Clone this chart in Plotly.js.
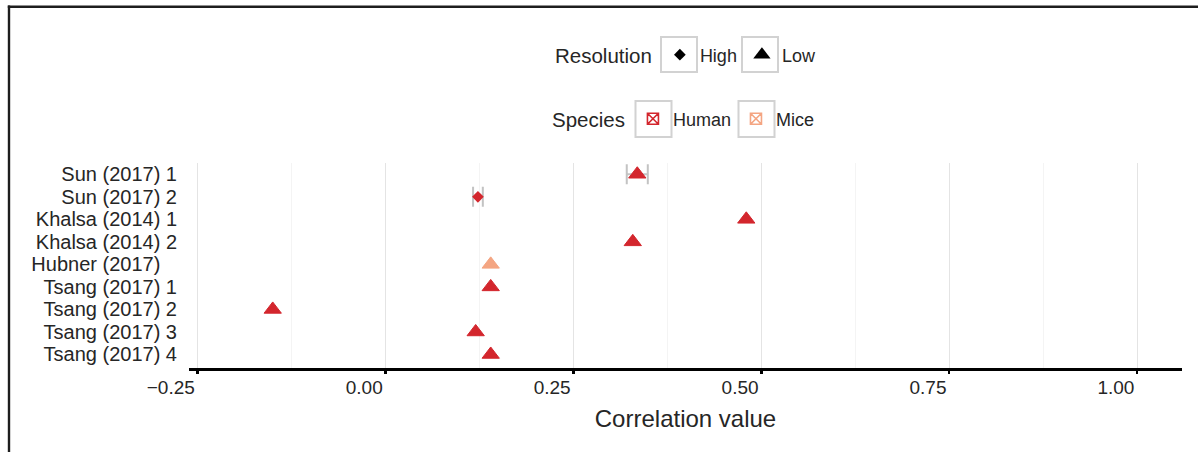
<!DOCTYPE html>
<html>
<head>
<meta charset="utf-8">
<script src="https://cdn.plot.ly/plotly-3.0.1.min.js"></script>
<style>
html, body { margin: 0; padding: 0; background: #fff; }
#chart { width: 1198px; height: 452px; }
</style>
</head>
<body>
<div id="chart"></div>
<script>
// ---- data ----
const studies = ["Sun (2017) 1", "Sun (2017) 2", "Khalsa (2014) 1", "Khalsa (2014) 2",
                 "Hubner (2017)", "Tsang (2017) 1", "Tsang (2017) 2", "Tsang (2017) 3", "Tsang (2017) 4"];
// tick labels as printed (the single Hubner study carries a blank index slot)
const studyLabels = ["Sun (2017) 1", "Sun (2017) 2", "Khalsa (2014) 1", "Khalsa (2014) 2",
                     "Hubner (2017)\u00a0\u00a0\u00a0", "Tsang (2017) 1", "Tsang (2017) 2", "Tsang (2017) 3", "Tsang (2017) 4"];
const correlation = [0.335, 0.123, 0.480, 0.329, 0.140, 0.140, -0.150, 0.120, 0.140];
const errorHalf = [0.014, 0.0065, null, null, null, null, null, null, null];
const resolution = ["Low", "High", "Low", "Low", "Low", "Low", "Low", "Low", "Low"];
const species = ["Human", "Human", "Human", "Human", "Mice", "Human", "Human", "Human", "Human"];
const xTicks = [-0.25, 0, 0.25, 0.5, 0.75, 1.0];

// ---- styles ----
const speciesColor = { Human: "#D3262D", Mice: "#F4A582" };
const resSymbol = { High: "diamond", Low: "triangle-up" };
const resSize = { High: 9, Low: 15 };
const FONT = "Liberation Sans, Arial, Helvetica, sans-serif";
const TXT = "#262626";

const W = 1198, H = 452;
const M = { l: 189, r: 16, t: 163, b: 84, pad: 0 };
const pw = W - M.l - M.r, ph = H - M.t - M.b;
const px = v => (v - M.l) / pw;
const py = v => (H - M.b - v) / ph;

const traces = [];
studies.forEach((s, i) => {
  const col = speciesColor[species[i]];
  const t = {
    type: "scatter", mode: "markers",
    x: [correlation[i]], y: [s],
    marker: { symbol: resSymbol[resolution[i]], size: resSize[resolution[i]],
              color: col, line: { width: resolution[i] === "Low" ? 1 : 0, color: col } },
    showlegend: false, hoverinfo: "x+y"
  };
  if (errorHalf[i] !== null) {
    t.error_x = { type: "data", array: [errorHalf[i]], visible: true,
                  color: "rgba(185,185,185,0.85)", thickness: 2, width: 10 };
  }
  traces.push(t);
});

// legend entries
["High", "Low"].forEach(r => traces.push({
  type: "scatter", mode: "markers", x: [null], y: [null], name: r,
  marker: { symbol: resSymbol[r], size: r === "High" ? 9 : 15, color: "#000" },
  legend: "legend", hoverinfo: "skip"
}));
["Human", "Mice"].forEach(sp => traces.push({
  type: "scatter", mode: "markers", x: [null], y: [null], name: sp,
  marker: { symbol: "square-x-open", size: 11, color: speciesColor[sp], line: { width: 1.6, color: speciesColor[sp] } },
  legend: "legend2", hoverinfo: "skip"
}));

const boxes = [[661, 697, 37, 72], [742, 778, 37, 72], [635.5, 671.5, 101, 137], [738.5, 774.5, 101, 137]];
const shapes = boxes.map(b => ({
  type: "rect", xref: "paper", yref: "paper",
  x0: px(b[0]), x1: px(b[1]), y0: py(b[3]), y1: py(b[2]),
  line: { color: "#d2d2d2", width: 2 }, fillcolor: "rgba(0,0,0,0)", layer: "below"
}));
// outer frame (top and left edges)
shapes.push({ type: "line", xref: "paper", yref: "paper", x0: px(7.8), x1: px(1210), y0: py(6.7), y1: py(6.7),
              line: { color: "#1e1e1e", width: 2.4 } });
shapes.push({ type: "line", xref: "paper", yref: "paper", x0: px(9), x1: px(9), y0: py(5.5), y1: py(470),
              line: { color: "#1e1e1e", width: 2.4 } });

const layout = {
  width: W, height: H, margin: M,
  paper_bgcolor: "#fff", plot_bgcolor: "#fff",
  font: { family: FONT, color: TXT, size: 18 },
  xaxis: {
    range: [-0.2614, 1.0597], tickvals: xTicks, tickformat: ".2f",
    showgrid: true, gridcolor: "#e4e4e4", gridwidth: 1,
    minor: { dtick: 0.125, tick0: 0, showgrid: true, gridcolor: "#f4f4f4", gridwidth: 1, ticks: "" },
    zeroline: false, showline: true, linecolor: "#000", linewidth: 3,
    ticks: "outside", ticklen: 3, tickwidth: 2.5, tickcolor: "#000",
    ticklabelposition: "outside left",
    tickfont: { size: 19, color: TXT },
    title: { text: "Correlation value", font: { size: 24, color: TXT }, standoff: 14 },
    fixedrange: true
  },
  yaxis: {
    type: "category", categoryorder: "array", categoryarray: studies.slice().reverse(),
    tickmode: "array", tickvals: studies, ticktext: studyLabels,
    range: [-0.6, 8.5], showgrid: false, zeroline: false, showline: false,
    ticks: "", tickfont: { size: 20, color: TXT }, ticklabelstandoff: 11,
    fixedrange: true
  },
  legend: {
    orientation: "h", x: px(553), xanchor: "left", y: py(55), yanchor: "middle",
    title: { text: "Resolution", side: "left", font: { size: 20.5, color: TXT } },
    font: { size: 18, color: TXT }, bgcolor: "rgba(0,0,0,0)", borderwidth: 0
  },
  legend2: {
    orientation: "h", x: px(550), xanchor: "left", y: py(119), yanchor: "middle",
    title: { text: "Species", side: "left", font: { size: 20.5, color: TXT } },
    font: { size: 18, color: TXT }, bgcolor: "rgba(0,0,0,0)", borderwidth: 0
  },
  shapes: shapes,
  showlegend: true
};

Plotly.newPlot("chart", traces, layout, { displayModeBar: false, staticPlot: true });
</script>
</body>
</html>
